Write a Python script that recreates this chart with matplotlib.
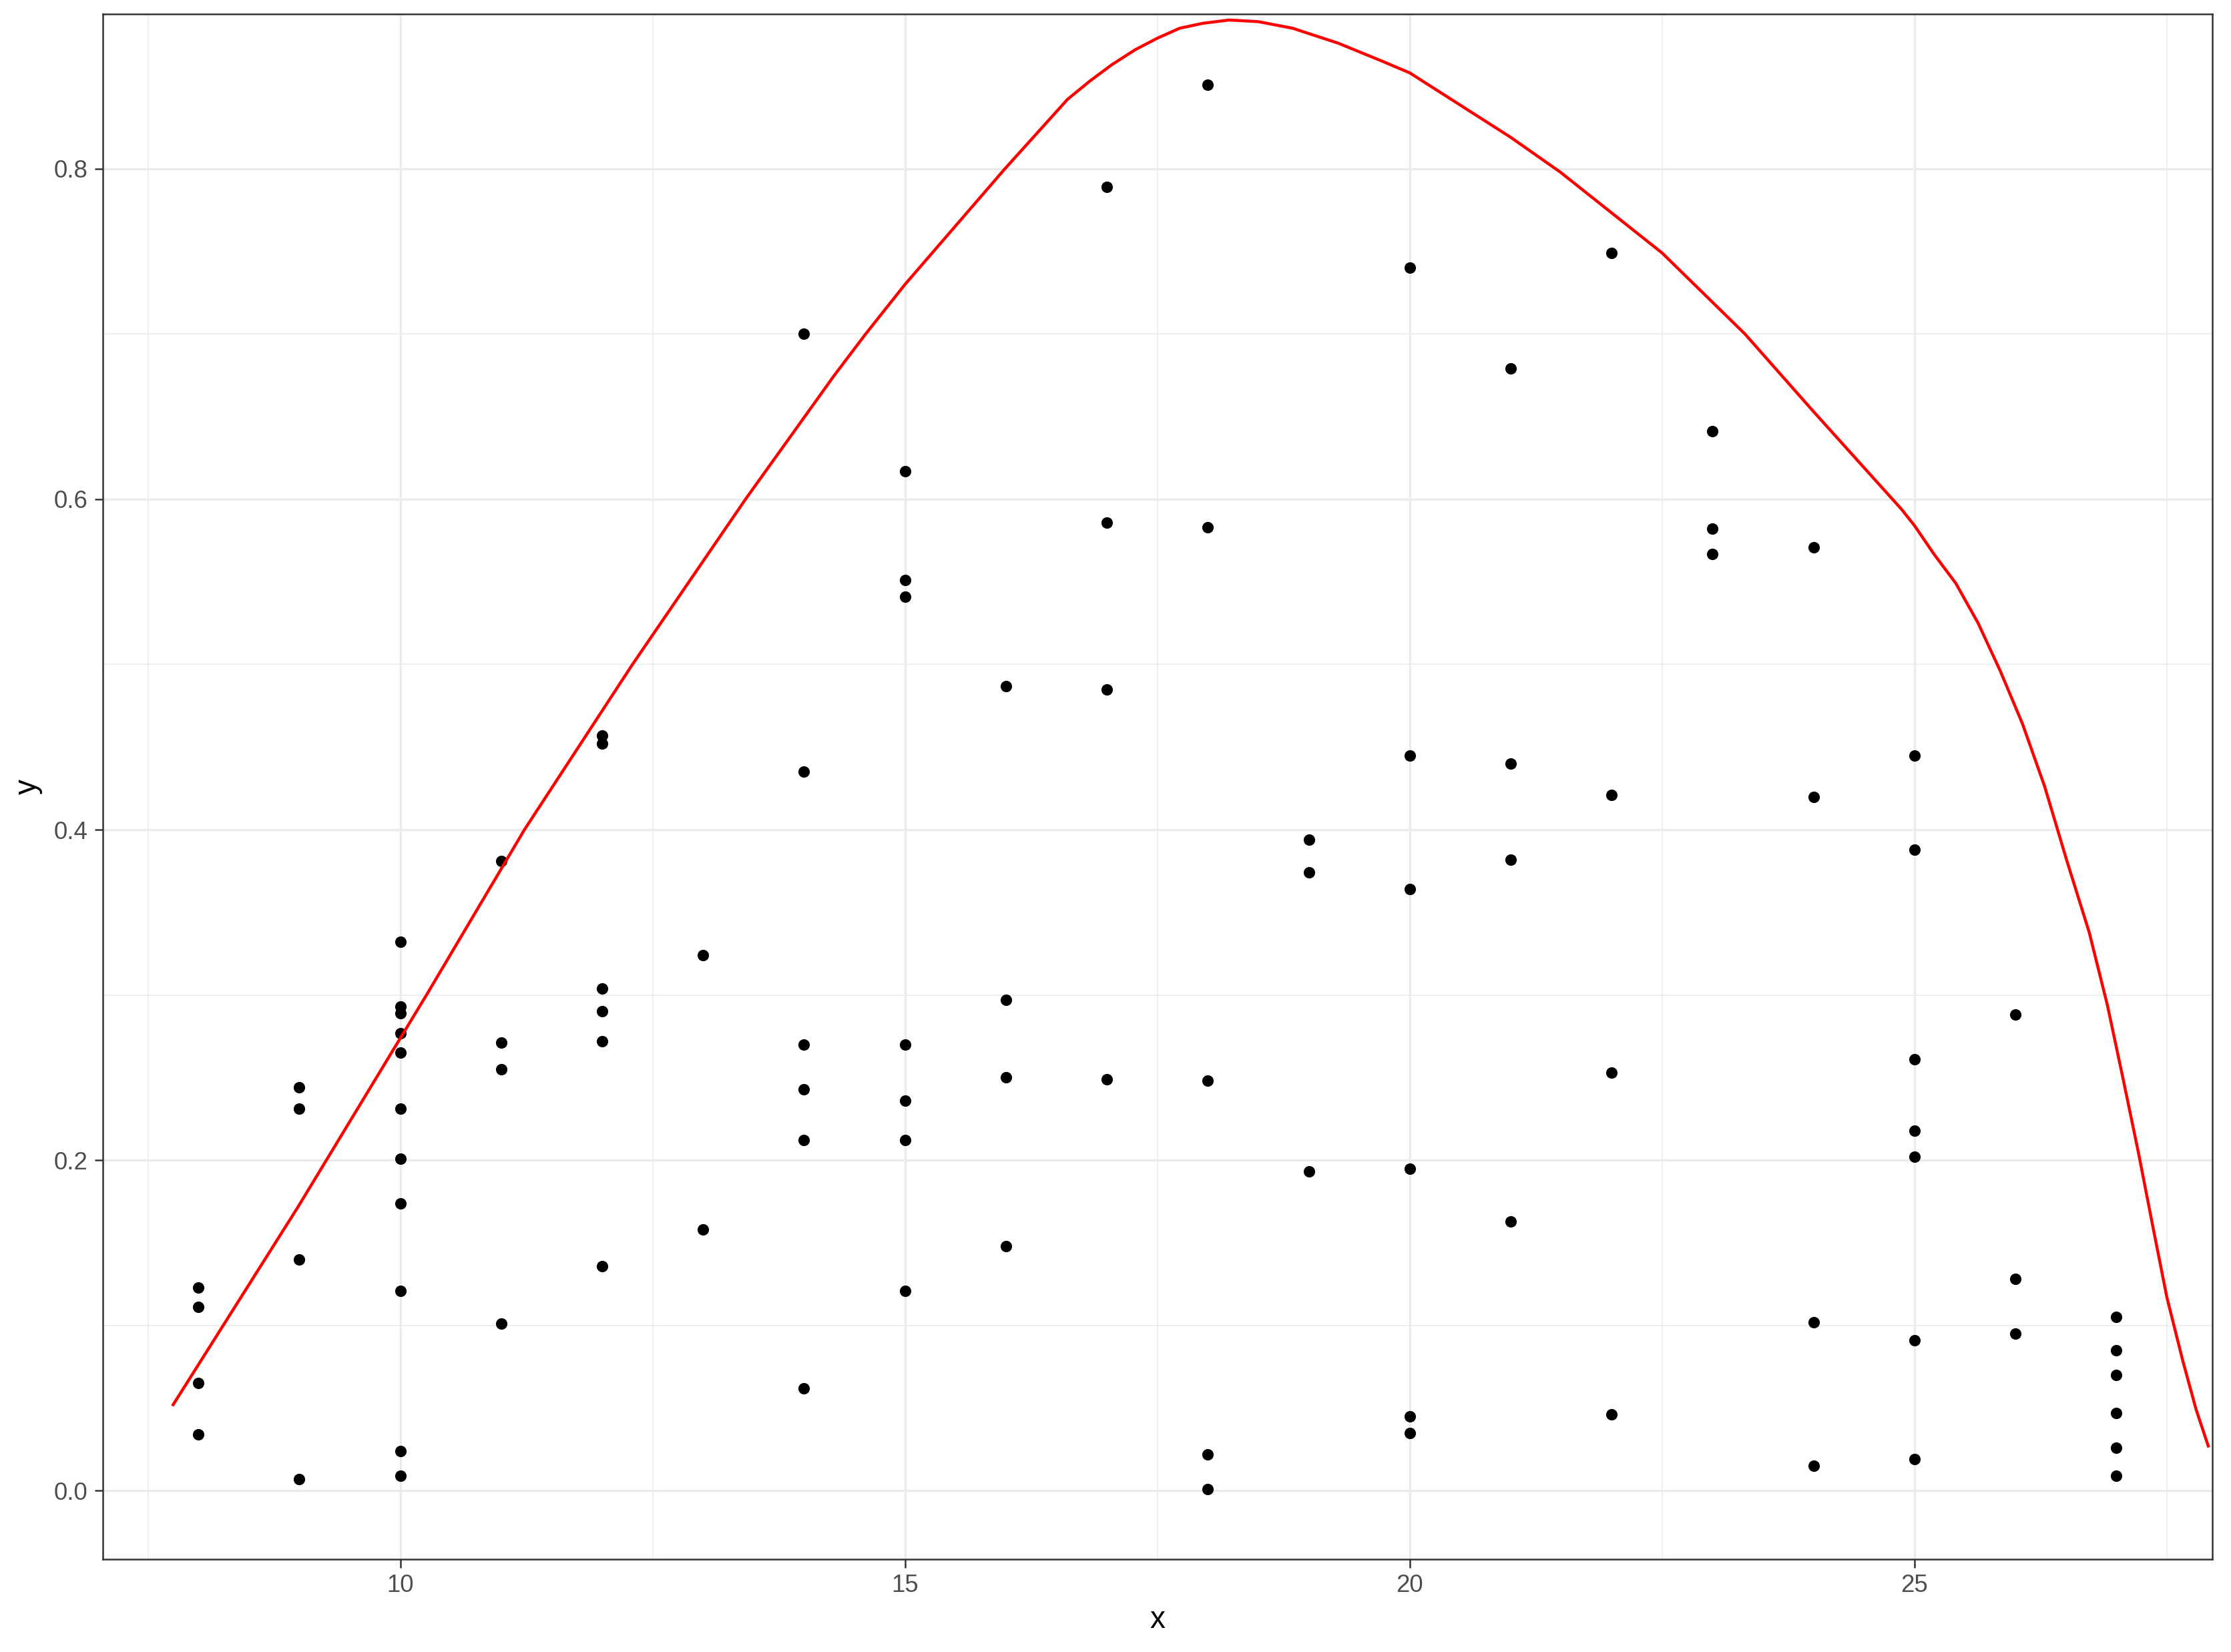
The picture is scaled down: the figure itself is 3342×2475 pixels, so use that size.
import matplotlib
matplotlib.use("Agg")
import matplotlib.pyplot as plt
from matplotlib.ticker import MultipleLocator

plt.rcParams['font.family'] = ['Liberation Sans', 'DejaVu Sans']

# scatter points (x, y)
x_pts = [8, 8, 8, 8,
         9, 9, 9, 9,
         10, 10, 10, 10, 10, 10, 10, 10, 10, 10, 10,
         11, 11, 11, 11,
         12, 12, 12, 12, 12, 12,
         13, 13,
         14, 14, 14, 14, 14, 14,
         15, 15, 15, 15, 15, 15, 15,
         16, 16, 16, 16,
         17, 17, 17, 17,
         18, 18, 18, 18, 18,
         19, 19, 19,
         20, 20, 20, 20, 20, 20,
         21, 21, 21, 21,
         22, 22, 22, 22,
         23, 23, 23,
         24, 24, 24, 24,
         25, 25, 25, 25, 25, 25, 25,
         26, 26, 26,
         27, 27, 27, 27, 27, 27]
y_pts = [0.123, 0.111, 0.065, 0.034,
         0.244, 0.231, 0.140, 0.007,
         0.332, 0.293, 0.289, 0.277, 0.265, 0.231, 0.201, 0.174, 0.121, 0.024, 0.009,
         0.381, 0.271, 0.255, 0.101,
         0.457, 0.452, 0.304, 0.290, 0.272, 0.136,
         0.324, 0.158,
         0.700, 0.435, 0.270, 0.243, 0.212, 0.062,
         0.617, 0.551, 0.541, 0.270, 0.236, 0.212, 0.121,
         0.487, 0.297, 0.250, 0.148,
         0.789, 0.586, 0.485, 0.249,
         0.851, 0.583, 0.248, 0.022, 0.001,
         0.394, 0.374, 0.193,
         0.740, 0.445, 0.364, 0.195, 0.045, 0.035,
         0.679, 0.440, 0.382, 0.163,
         0.749, 0.421, 0.253, 0.046,
         0.641, 0.582, 0.567,
         0.571, 0.420, 0.102, 0.015,
         0.445, 0.388, 0.261, 0.218, 0.202, 0.091, 0.019,
         0.288, 0.128, 0.095,
         0.105, 0.085, 0.070, 0.047, 0.026, 0.009]

# red curve, sampled from the chart
curve_x = [7.75, 8.99, 10.27, 11.23, 12.30, 13.42, 14.30, 14.61, 15.00,
           15.99, 16.61, 16.83, 17.05, 17.28, 17.50, 17.72, 17.95, 18.21, 18.50,
           18.84, 19.29, 19.73, 20.00, 21.00, 21.49, 22.50, 23.32, 24.00, 24.87,
           25.00, 25.19, 25.41, 25.63, 25.85, 26.07, 26.29, 26.51, 26.73, 26.91,
           27.06, 27.22, 27.37, 27.50, 27.66, 27.79, 27.91]
curve_y = [0.052, 0.172, 0.301, 0.400, 0.500, 0.600, 0.675, 0.700, 0.730,
           0.800, 0.842, 0.853, 0.863, 0.872, 0.879, 0.885, 0.888, 0.890, 0.889,
           0.885, 0.876, 0.865, 0.858, 0.819, 0.798, 0.749, 0.700, 0.653, 0.594,
           0.584, 0.567, 0.549, 0.525, 0.496, 0.464, 0.426, 0.381, 0.338, 0.294,
           0.251, 0.204, 0.157, 0.117, 0.078, 0.049, 0.027]

fig = plt.figure(figsize=(3342 / 300, 2475 / 300), dpi=300)
ax = fig.add_axes([153.5 / 3342, 1 - 2336 / 2475, (3314 - 153.5) / 3342, (2336 - 21.3) / 2475])

# grid like theme_bw
ax.set_axisbelow(True)
ax.xaxis.set_major_locator(MultipleLocator(5))
ax.xaxis.set_minor_locator(MultipleLocator(2.5))
ax.yaxis.set_major_locator(MultipleLocator(0.2))
ax.yaxis.set_minor_locator(MultipleLocator(0.1))
ax.grid(which='major', color='#EBEBEB', linewidth=0.8)
ax.grid(which='minor', color='#EBEBEB', linewidth=0.4)

ax.scatter(x_pts, y_pts, s=17, color='black', linewidths=0, zorder=3)
ax.plot(curve_x, curve_y, color='red', linewidth=1.07, zorder=4)

ax.set_xlim(7.05, 27.95)
ax.set_ylim(-0.0415, 0.8935)
ax.yaxis.set_major_formatter(matplotlib.ticker.FormatStrFormatter('%.1f'))

for s in ax.spines.values():
    s.set_color('#333333')
    s.set_linewidth(0.6)

ax.tick_params(which='major', length=3, width=0.6, color='#333333',
               labelsize=8.8, labelcolor='#4D4D4D', pad=2.2)
ax.tick_params(which='minor', length=0)

ax.set_xlabel('x', fontsize=11, labelpad=3)
ax.set_ylabel('y', fontsize=11, labelpad=4)

fig.savefig('out.png', dpi=300)
